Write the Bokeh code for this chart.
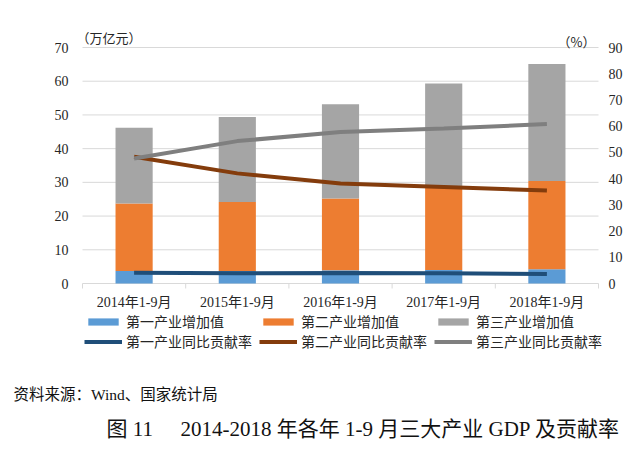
from bokeh.plotting import figure
from bokeh.models import (Range1d, Label, Legend, LegendItem, ColumnDataSource)
from bokeh.core.properties import value
from bokeh.embed import file_html
from bokeh.resources import INLINE

# ---------------- data ----------------
categories = ["2014年1-9月", "2015年1-9月", "2016年1-9月", "2017年1-9月", "2018年1-9月"]
primary_gdp = [3.7, 3.7, 3.9, 4.0, 4.2]        # 万亿元
secondary_gdp = [20.0, 20.5, 21.3, 24.3, 26.2]
tertiary_gdp = [22.5, 25.2, 28.0, 31.0, 34.7]
primary_rate = [4.1, 3.9, 4.0, 3.9, 3.6]       # %
secondary_rate = [48.3, 42.0, 38.1, 36.8, 35.5]
tertiary_rate = [47.7, 54.3, 57.8, 59.1, 60.8]
left_ticks = [0, 10, 20, 30, 40, 50, 60, 70]
right_ticks = [0, 10, 20, 30, 40, 50, 60, 70, 80, 90]
bar_names = ["第一产业增加值", "第二产业增加值", "第三产业增加值"]
line_names = ["第一产业同比贡献率", "第二产业同比贡献率", "第三产业同比贡献率"]

n = len(categories)
xs = [i + 0.5 for i in range(n)]
src = ColumnDataSource(dict(x=xs, cat=categories,
                            primary=primary_gdp, secondary=secondary_gdp, tertiary=tertiary_gdp,
                            r1=primary_rate, r2=secondary_rate, r3=tertiary_rate))

SERIF = "Liberation Serif, Noto Sans CJK SC"
CJK = "Noto Sans CJK SC"
TXT = "#262626"

# ---------------- layout (pixels of the page) ----------------
W, H = 632, 442
PLOT_L, PLOT_R, PLOT_T, PLOT_B = 82, 598, 47, 283
PX = (PLOT_R - PLOT_L) / n                       # px per category
PY = (PLOT_B - PLOT_T) / left_ticks[-1]          # px per 万亿元
PR = (PLOT_B - PLOT_T) / right_ticks[-1]         # px per %

p = figure(width=W, height=H,
           x_range=Range1d(-PLOT_L / PX, n + (W - PLOT_R) / PX),
           y_range=Range1d(-(H - PLOT_B) / PY, PLOT_B / PY),
           output_backend="svg", toolbar_location=None,
           x_axis_location=None, y_axis_location=None, min_border=0,
           background_fill_color="white", border_fill_color="white")
p.outline_line_color = None
p.grid.visible = False
p.extra_y_ranges = {"pct": Range1d(-(H - PLOT_B) / PR, PLOT_B / PR)}

# gridlines (plot area only) and category separator ticks
p.segment(x0=0, x1=n, y0=left_ticks, y1=left_ticks, line_color="#D9D9D9", line_width=1)
bounds = list(range(n + 1))
p.segment(x0=bounds, x1=bounds, y0=0, y1=-5 / PY, line_color="#D9D9D9", line_width=1)

bars = p.vbar_stack(["primary", "secondary", "tertiary"], x="x", width=0.36,
                    color=["#5B9BD5", "#ED7D31", "#A5A5A5"], line_color=None,
                    source=src)
l1 = p.line(x="x", y="r1", source=src, y_range_name="pct", line_width=4, color="#1F4E79")
l2 = p.line(x="x", y="r2", source=src, y_range_name="pct", line_width=4, color="#843C0C")
l3 = p.line(x="x", y="r3", source=src, y_range_name="pct", line_width=4, color="#7F7F7F")

# tick labels
p.text(x="x", y=0, text="cat", source=src, y_offset=19, text_align="center",
       text_baseline="middle", text_font=value(SERIF), text_font_size="14px",
       text_color=TXT)
p.text(x=0, y=left_ticks, text=[str(t) for t in left_ticks], x_offset=-14,
       text_align="right", text_baseline="middle", text_font=value(SERIF),
       text_font_size="14px", text_color=TXT)
p.text(x=n, y=right_ticks, text=[str(t) for t in right_ticks], x_offset=10,
       y_range_name="pct", text_align="left", text_baseline="middle",
       text_font=value(SERIF), text_font_size="14px", text_color=TXT)

# legend below the category labels
items = [LegendItem(label=nm, renderers=[r]) for nm, r in zip(bar_names, bars)]
items += [LegendItem(label=nm, renderers=[r]) for nm, r in zip(line_names, [l1, l2, l3])]
leg = Legend(items=items, location=(84, H - 351), orientation="horizontal", ncols=3,
             glyph_width=38, glyph_height=9, label_standoff=4, label_width=133,
             spacing=0, padding=0, margin=0, border_line_color=None,
             background_fill_alpha=0, label_text_font=CJK,
             label_text_font_size="14px", label_text_color=TXT)
p.add_layout(leg, "center")

def lab(x, y, text, size, font=SERIF, color=TXT):
    p.add_layout(Label(x=x, y=H - y, x_units="screen", y_units="screen", text=text,
                       text_font=font, text_font_size=size, text_color=color,
                       text_baseline="middle", text_align="left"))

# unit labels
lab(76, 37, "（万亿元）", "13px", font=CJK)
lab(557, 41, "（%）", "13px", font=CJK)
# source and caption
lab(13, 394, "资料来源：Wind、国家统计局", "15.5px", color="#111111")
lab(106, 428, "图 11", "21px", color="#111111")
lab(180, 428, "2014-2018 年各年 1-9 月三大产业 GDP 及贡献率", "21px", color="#111111")

open("out.html", "w").write(file_html(p, INLINE))
